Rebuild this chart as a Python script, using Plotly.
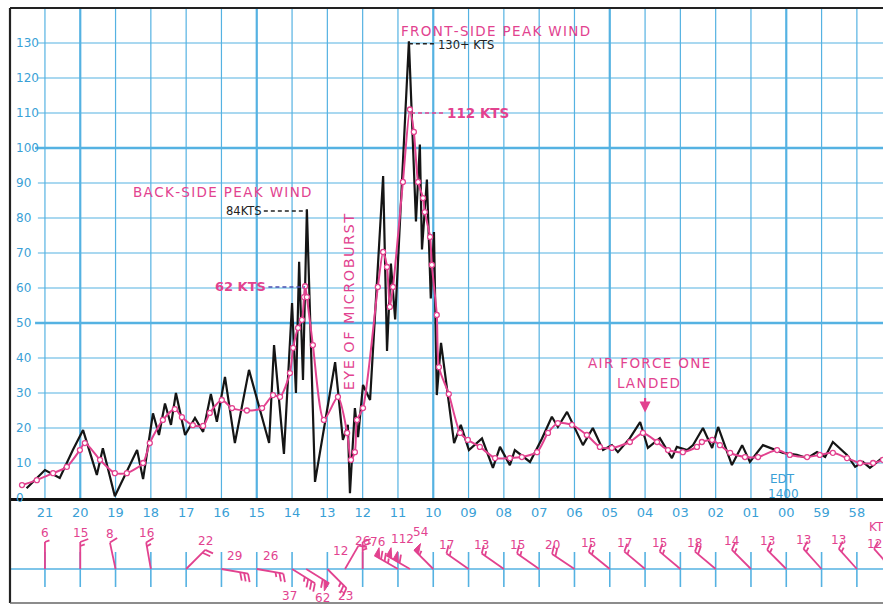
import math
import plotly.graph_objects as go

# ---------------- data ----------------
minute_labels = ["21", "20", "19", "18", "17", "16", "15", "14", "13", "12", "11", "10",
                 "09", "08", "07", "06", "05", "04", "03", "02", "01", "00", "59", "58"]
y_ticks = list(range(0, 140, 10))

# raw anemometer trace (black) : x in minute-grid units (0 = "21")
black_t = [-0.52, 0.0, 0.42, 0.79, 1.08, 1.47, 1.64, 1.98, 2.61, 2.78, 3.06, 3.23, 3.40, 3.57,
           3.71, 3.97, 4.25, 4.48, 4.70, 4.87, 5.10, 5.38, 5.78, 6.35, 6.49, 6.77, 7.00, 7.11,
           7.20, 7.31, 7.42, 7.65, 8.22, 8.44, 8.58, 8.64, 8.78, 8.87, 9.01, 9.21, 9.58, 9.69,
           9.80, 9.92, 10.31, 10.51, 10.62, 10.68, 10.82, 10.93, 11.02, 11.10, 11.22, 11.59,
           11.78, 12.01, 12.38, 12.69, 12.89, 13.17, 13.31, 13.74, 14.08, 14.36, 14.53, 14.79,
           15.24, 15.52, 15.81, 16.06, 16.23, 16.57, 16.86, 17.08, 17.42, 17.76, 17.90, 18.19,
           18.36, 18.64, 18.90, 19.07, 19.46, 19.75, 19.97, 20.34, 20.91, 21.30, 21.59, 21.87,
           22.10, 22.32, 22.72, 22.95, 23.17, 23.37, 23.71]
black_v = [2.8, 8, 5.7, 13.7, 19.4, 6.6, 14.2, 0.5, 13.7, 5.4, 24.2, 18, 27, 20.9,
           30, 18, 22.9, 18.9, 29.7, 21.8, 34.6, 15.7, 36.6, 15.7, 43.7, 12.6, 55.7, 30,
           67.5, 33.7, 82.5, 4.6, 38.8, 16.6, 20.9, 1.4, 25.7, 17.4, 32.3, 28, 92, 42,
           67, 51, 130.5, 79, 101, 71, 91, 57, 76, 29.4, 44.3, 15.7,
           20.9, 13.7, 17, 8.6, 14.6, 9.4, 13.7, 10.3, 17, 23.2, 20.3, 24.6,
           15.1, 20, 13.7, 15.1, 13.1, 17.1, 21.7, 14.3, 17.1, 11.4, 14.6, 13.7,
           15.1, 20, 14.3, 20.3, 9.4, 15.1, 10.3, 15.1, 12.9, 12.3, 11.4, 13.1,
           11.7, 16, 12.3, 8.9, 10.3, 8.6, 11.4]

# smoothed trace (magenta)
mag_t = [-0.65, -0.23, 0.23, 0.62, 0.99, 1.13, 1.56, 1.98, 2.32, 2.78, 2.97, 3.34, 3.68, 3.88,
         4.19, 4.48, 4.67, 5.01, 5.30, 5.72, 6.15, 6.46, 6.66, 6.94, 7.03, 7.17, 7.28, 7.34,
         7.37, 7.42, 7.59, 7.90, 8.30, 8.56, 8.67, 8.78, 8.84, 9.01, 9.43, 9.58, 9.69, 9.77,
         9.86, 10.14, 10.34, 10.45, 10.57, 10.71, 10.76, 10.91, 10.96, 11.10, 11.16, 11.44,
         11.76, 11.98, 12.32, 12.75, 13.17, 13.51, 13.94, 14.25, 14.53, 14.93, 15.35, 15.72,
         16.06, 16.57, 16.94, 17.34, 17.65, 18.07, 18.47, 18.61, 18.90, 19.12, 19.41, 19.83,
         20.20, 20.74, 21.10, 21.59, 21.95, 22.32, 22.72, 23.09, 23.46, 23.74]
mag_v = [3.7, 5.1, 7.1, 8.9, 13.7, 15.7, 10.9, 7.1, 7.1, 10, 15.7, 22.3, 25.4, 23.1,
         20.8, 20.6, 24.3, 28, 25.7, 25, 25.7, 29.4, 28.9, 35.7, 42.9, 48.6, 50.9, 57.4,
         60.5, 57.4, 43.7, 22.3, 28.9, 18.6, 10.9, 13.1, 22.3, 25.7, 60.3, 70.3, 66, 54.6,
         60.3, 90.3, 111, 104.6, 90.3, 85.7, 81.7, 74.6, 66.6, 52.3, 37.4, 29.7,
         18.6, 16.6, 14.6, 11.4, 11.4, 11.7, 13.1, 18.6, 21.4, 20.9, 18, 14.6,
         14.3, 16, 18.6, 16, 13.7, 13.1, 14.6, 16, 16.6, 15.1, 12.9, 11.7,
         11.7, 13.7, 12.3, 11.7, 12.3, 12.9, 11.4, 10, 10, 10.9]

# wind barbs (station position, speed in kts, direction in degrees)
barb_t = [0, 1, 2, 3, 4, 5, 6, 7, 7.4, 8, 8.5, 9, 10.0, 10.34, 11,
          12, 13, 14, 15, 16, 17, 18, 19, 20, 21, 22, 23, 24]
barb_spd = [6, 15, 8, 16, 22, 29, 26, 37, 62, 23, 12, 26, 76, 112, 54,
            17, 13, 15, 20, 15, 17, 15, 18, 14, 13, 13, 13, 12]
barb_dir = [0, 0, 348, 350, 45, 100, 100, 122, 122, 135, 30, 0, 300, 300, 315,
            305, 305, 305, 304, 309, 310, 310, 310, 315, 315, 318, 318, 318]

# ---------------- style / geometry ----------------
W, H = 883, 605
LEFT_PX = 10
XR = [-0.99, 23.74]
AXIS_PX = 498
TOP_PX = 8
MAG = "#e2428f"
CYAN = "#3a9fd6"
GRID = "#55b2e2"
FONT = "DejaVu Sans"
HS = "\u200a"  # hair space for the wide hand lettering

# label nudges (px, x right / y up) for crowded barb labels
label_nudge = {7: (-14, 0), 8: (5, -2), 9: (9, 5), 10: (-18, -14), 11: (0, -8),
               12: (3, 0), 13: (16, 3), 14: (6, 4), 27: (0, -4)}

sx = (W - LEFT_PX) / (XR[1] - XR[0])          # px per minute unit
main_dom = [(H - AXIS_PX) / H, (H - TOP_PX) / H]
y2_top = H - AXIS_PX
base_y2 = H - 569


def spaced(s):
    return HS.join(s)


fig = go.Figure()

# ---------------- grid (graph paper) ----------------
shapes = []
for i, lab in enumerate(minute_labels):
    major = int(lab) % 5 == 0 and lab != "21"
    shapes.append(dict(type="line", xref="x", yref="y", x0=i, x1=i, y0=0, y1=140,
                       line=dict(color=GRID, width=2.2 if major else 1.2), layer="below"))
for v in y_ticks[1:]:
    major = v % 50 == 0
    shapes.append(dict(type="line", xref="x", yref="y", x0=-0.28 if major else -0.2, x1=XR[1],
                       y0=v, y1=v, line=dict(color=GRID, width=2.4 if major else 1.2), layer="below"))

# barb panel base line and ticks
shapes.append(dict(type="line", xref="paper", yref="y2", x0=LEFT_PX / W, x1=1, y0=base_y2, y1=base_y2,
                   line=dict(color=GRID, width=1.6), layer="below"))
for i in range(len(minute_labels) + 1):
    shapes.append(dict(type="line", xref="x", yref="y2", x0=i, x1=i, y0=base_y2 - 18, y1=base_y2 + 17,
                       line=dict(color=GRID, width=1.6), layer="below"))

# frame
shapes.append(dict(type="line", xref="paper", yref="paper", x0=LEFT_PX / W, x1=LEFT_PX / W,
                   y0=2 / H, y1=(H - TOP_PX) / H, line=dict(color="#222", width=2.2)))
shapes.append(dict(type="line", xref="paper", yref="paper", x0=LEFT_PX / W, x1=1,
                   y0=(H - TOP_PX) / H, y1=(H - TOP_PX) / H, line=dict(color="#222", width=2.2)))
shapes.append(dict(type="line", xref="paper", yref="paper", x0=LEFT_PX / W, x1=1,
                   y0=2 / H, y1=2 / H, line=dict(color="#666", width=1.5)))

# ---------------- traces ----------------
fig.add_trace(go.Scatter(x=black_t, y=black_v, mode="lines",
                         line=dict(color="#151515", width=2.2), hoverinfo="skip"))
fig.add_trace(go.Scatter(x=mag_t, y=mag_v, mode="lines+markers",
                         line=dict(color=MAG, width=2, shape="spline", smoothing=0.7),
                         marker=dict(size=5, color="white", line=dict(color=MAG, width=1.3)),
                         hoverinfo="skip"))

# ---------------- wind barbs ----------------
bx, by, px_, py_ = [], [], [], []
annotations = []
L = 27.0
for k, (t, spd, d) in enumerate(zip(barb_t, barb_spd, barb_dir)):
    a = math.radians(d)
    ux, uy = math.sin(a), math.cos(a)
    nx, ny = uy, -ux  # right-hand side of shaft
    X0, Y0 = t * sx, base_y2
    tipX, tipY = X0 + ux * L, Y0 + uy * L
    bx += [X0 / sx, tipX / sx, None]
    by += [Y0, tipY, None]
    n5 = int(round(spd / 5.0))
    pen, rem = divmod(n5, 10)
    full, half = divmod(rem, 2)
    pos = L
    for _ in range(pen):
        ax_, ay_ = X0 + ux * pos, Y0 + uy * pos
        bx2, by2 = X0 + ux * (pos - 6), Y0 + uy * (pos - 6)
        cx, cy = ax_ + nx * 9, ay_ + ny * 9
        px_ += [ax_ / sx, cx / sx, bx2 / sx, ax_ / sx, None]
        py_ += [ay_, cy, by2, ay_, None]
        pos -= 7.5
    for _ in range(full):
        ax_, ay_ = X0 + ux * pos, Y0 + uy * pos
        bx += [ax_ / sx, (ax_ + nx * 8 + ux * 3) / sx, None]
        by += [ay_, ay_ + ny * 8 + uy * 3, None]
        pos -= 4
    if half:
        ax_, ay_ = X0 + ux * pos, Y0 + uy * pos
        bx += [ax_ / sx, (ax_ + nx * 4.5 + ux * 1.7) / sx, None]
        by += [ay_, ay_ + ny * 4.5 + uy * 1.7, None]
    # label
    if uy < -0.3:
        lx, ly = (X0 + tipX) / 2, tipY - 13
    elif abs(uy) <= 0.3:
        lx, ly = (X0 + tipX) / 2, max(Y0, tipY) + 13
    else:
        lx, ly = tipX, tipY + (14 if pen else 9)
    dx, dy = label_nudge.get(k, (0, 0))
    annotations.append(dict(x=(lx + dx) / sx, y=ly + dy, xref="x", yref="y2", text=str(spd),
                            showarrow=False, font=dict(color=MAG, size=12, family=FONT)))

fig.add_trace(go.Scatter(x=bx, y=by, xaxis="x", yaxis="y2", mode="lines",
                         line=dict(color=MAG, width=1.8), hoverinfo="skip"))
fig.add_trace(go.Scatter(x=px_, y=py_, xaxis="x", yaxis="y2", mode="lines", fill="toself",
                         fillcolor=MAG, line=dict(color=MAG, width=1), hoverinfo="skip"))

# ---------------- annotations ----------------
for v in y_ticks:
    annotations.append(dict(x=14 / W, y=v, xref="paper", yref="y", xanchor="left", text=str(v),
                            showarrow=False, font=dict(color=CYAN, size=12, family=FONT)))

# peak markers derived from the data
back_i = max(range(len(black_v)), key=lambda k: black_v[k] if black_t[k] < 8 else -1)
front_i = max(range(len(black_v)), key=lambda k: black_v[k])
mback_i = max(range(len(mag_v)), key=lambda k: mag_v[k] if mag_t[k] < 8 else -1)
mfront_i = max(range(len(mag_v)), key=lambda k: mag_v[k])


def dash(x0, x1, y, color):
    shapes.append(dict(type="line", xref="x", yref="y", x0=x0, x1=x1, y0=y, y1=y,
                       line=dict(color=color, width=1.4, dash="4px,3px")))


dash(6.2, black_t[back_i], black_v[back_i] - 0.5, "#222")
dash(6.33, mag_t[mback_i], mag_v[mback_i] - 0.2, "#4a4fb0")
dash(black_t[front_i], 11.05, 129.8, "#222")
dash(mag_t[mfront_i] + 0.03, 11.3, 110, MAG)


def txt(x, y, s, color, size=14, anchor="center", angle=0, yref="y"):
    annotations.append(dict(x=x, y=y, xref="x", yref=yref, text=s, showarrow=False, xanchor=anchor,
                            textangle=angle, font=dict(color=color, size=size, family=FONT)))


txt(5.02, 87.3, spaced("BACK-SIDE PEAK WIND"), MAG, 13.5)
txt(6.2, 81.9, "84KTS", "#222", 11.5, "right")
txt(6.33, 60.3, "<b>62 KTS</b>", MAG, 13, "right")
txt(12.75, 133.3, spaced("FRONT-SIDE PEAK WIND"), MAG, 13.5)
txt(11.08, 129.5, "130+ KTS", "#222", 11.5, "left")
txt(11.32, 110, "<b>112 KTS</b>", MAG, 13.5, "left")
txt(8.62, 56, spaced("EYE OF MICROBURST"), MAG, 14.5, angle=-90)
txt(17.12, 38.6, spaced("AIR FORCE ONE"), MAG, 13.5)
txt(17.1, 32.9, spaced("LANDED"), MAG, 13.5)
txt(20.9, 5.5, "EDT", CYAN, 12)
txt(20.93, 1.2, "1400", CYAN, 12)
txt(23.28, 78, "KTS", MAG, 12, "left", yref="y2")
annotations.append(dict(x=17.0, y=24.4, xref="x", yref="y", ax=0, ay=-16, showarrow=True,
                        arrowhead=2, arrowsize=1, arrowwidth=2.2, arrowcolor=MAG, text=""))

fig.update_layout(
    width=W, height=H, margin=dict(l=0, r=0, t=0, b=0),
    paper_bgcolor="white", plot_bgcolor="white", showlegend=False,
    xaxis=dict(domain=[LEFT_PX / W, 1], range=XR, tickmode="array",
               tickvals=list(range(len(minute_labels))), ticktext=minute_labels,
               showgrid=False, zeroline=False, showline=True, linecolor="#111", linewidth=3,
               ticks="", tickfont=dict(color=CYAN, size=13, family=FONT), anchor="y"),
    yaxis=dict(domain=main_dom, range=[0, 140], showgrid=False, zeroline=False,
               showline=False, showticklabels=False, ticks=""),
    yaxis2=dict(domain=[0, main_dom[0]], range=[0, y2_top], showgrid=False, zeroline=False,
                showline=False, showticklabels=False, ticks="", anchor="x"),
    shapes=shapes, annotations=annotations,
)

fig.write_html("out.html")
